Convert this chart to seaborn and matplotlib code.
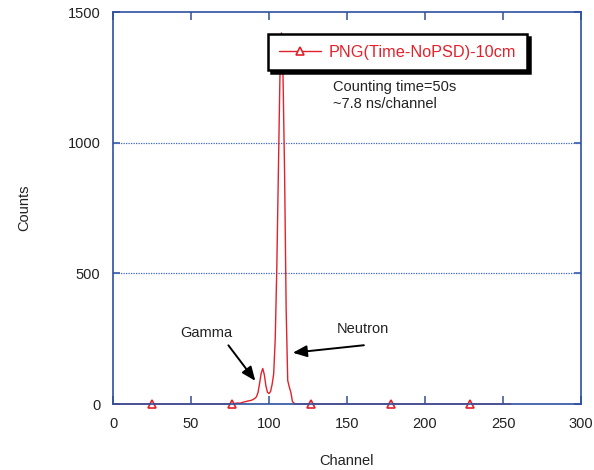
import numpy as np
import pandas as pd
import matplotlib
matplotlib.use("Agg")
import matplotlib.pyplot as plt
import seaborn as sns

# Time spectrum of the PNG source (no PSD), 10 cm distance
n_channels = 256
peak_start = 78
peak_counts = [
    2, 3, 4, 3, 4, 6, 8, 9, 11, 12,          # ch 78-87
    13, 15, 18, 22, 28, 45, 80, 118, 136, 112,  # ch 88-97
    70, 45, 40, 48, 75, 115, 250, 520, 880, 1250,  # ch 98-107
    1420, 1250, 880, 360, 90, 65, 45, 10, 3, 0,  # ch 108-117
]
series_label = "PNG(Time-NoPSD)-10cm"
info_lines = ["Counting time=50s", "~7.8 ns/channel"]
x_ticks = [0, 50, 100, 150, 200, 250, 300]
y_ticks = [0, 500, 1000, 1500]

channel = np.arange(n_channels)
counts = np.zeros(n_channels)
counts[peak_start:peak_start + len(peak_counts)] = peak_counts
df = pd.DataFrame({"Channel": channel, "Counts": counts})

sns.set_theme(style="white")
plt.rcParams["font.family"] = ["Liberation Sans", "DejaVu Sans"]

RED = "#e3212b"
BLUE = "#2d50a0"
INK = "#222222"

fig = plt.figure(figsize=(5.94, 4.70), dpi=100)
ax = fig.add_axes([113 / 594, 1 - 404 / 470, 468 / 594, 392 / 470])

sns.lineplot(
    data=df, x="Channel", y="Counts", ax=ax, color=RED, linewidth=1.0,
    marker="^", markersize=6, markerfacecolor="white", markeredgecolor=RED,
    markeredgewidth=1.2, markevery=(25, 51), label=series_label, clip_on=False,
)

ax.set_xlim(0, 300)
ax.set_ylim(0, 1500)
ax.set_xticks(x_ticks)
ax.set_yticks(y_ticks)

for s in ax.spines.values():
    s.set_color(BLUE)
    s.set_linewidth(1.2)

ax.tick_params(axis="x", direction="in", length=6, width=1.1, color=BLUE,
               top=True, bottom=True, labelsize=10.5, labelcolor=INK, pad=9)
ax.tick_params(axis="y", direction="in", length=5, width=1.1, color=BLUE,
               left=True, right=True, labelsize=10.5, labelcolor=INK, pad=9)

for yv in (500, 1000):
    ax.axhline(yv, color="#3a66c4", linestyle=(0, (1, 1)), linewidth=0.9, zorder=1)

ax.set_xlabel("Channel", fontsize=10.5, color=INK, labelpad=17)
ax.set_ylabel("Counts", fontsize=10.5, color=INK, labelpad=26)

ax.text(141, 1213, info_lines[0], fontsize=10.5, color=INK, va="center", ha="left")
ax.text(141, 1148, info_lines[1], fontsize=10.5, color=INK, va="center", ha="left")

# Peak annotations
ax.text(60, 272, "Gamma", fontsize=10.5, color=INK, ha="center", va="center")
ax.annotate("", xy=(92.3, 80), xytext=(72.9, 233),
            arrowprops=dict(arrowstyle="-|>,head_length=0.6,head_width=0.25",
                            color="black", lw=1.4, mutation_scale=14))
ax.text(160, 287, "Neutron", fontsize=10.5, color=INK, ha="center", va="center")
ax.annotate("", xy=(113.5, 195), xytext=(162.6, 226),
            arrowprops=dict(arrowstyle="-|>,head_length=0.6,head_width=0.25",
                            color="black", lw=1.4, mutation_scale=14))

leg = ax.legend(
    loc="upper left", bbox_to_anchor=(268 / 594, 1 - 34 / 470),
    bbox_transform=fig.transFigure, borderaxespad=0, fontsize=11.7,
    frameon=True, fancybox=False, handlelength=2.6, handletextpad=0.5,
    borderpad=0.65, shadow={"color": "black", "alpha": 1},
)
for t in leg.get_texts():
    t.set_color(RED)
frame = leg.get_frame()
frame.set_edgecolor("black")
frame.set_linewidth(1.8)
frame.set_facecolor("white")
frame.set_alpha(1)

fig.savefig("out.png", dpi=100, facecolor="white")
